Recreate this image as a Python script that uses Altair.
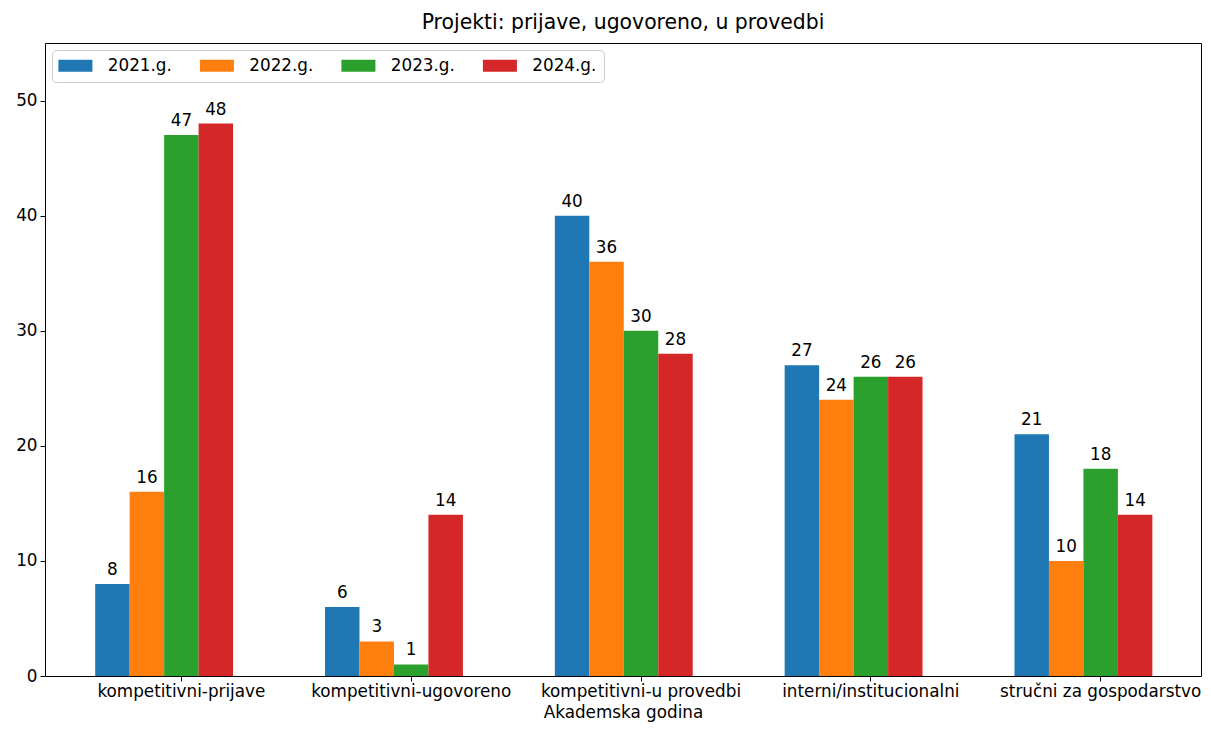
import altair as alt
import pandas as pd

categories = ["kompetitivni-prijave", "kompetitivni-ugovoreno", "kompetitivni-u provedbi",
              "interni/institucionalni", "stručni za gospodarstvo"]
years = ["2021.g.", "2022.g.", "2023.g.", "2024.g."]
v2021 = [8, 6, 40, 27, 21]
v2022 = [16, 3, 36, 24, 10]
v2023 = [47, 1, 30, 26, 18]
v2024 = [48, 14, 28, 26, 14]
colors = ["#1f77b4", "#ff7f0e", "#2ca02c", "#d62728"]
y_ticks = [0, 10, 20, 30, 40, 50]

rows = []
for yr, vals in zip(years, [v2021, v2022, v2023, v2024]):
    for c, v in zip(categories, vals):
        rows.append({"cat": c, "year": yr, "value": v})
df = pd.DataFrame(rows)

FONT = "DejaVu Sans"
FS = 16.8

x = alt.X("cat:N", sort=categories, title="Akademska godina",
          scale=alt.Scale(paddingInner=0.25, paddingOuter=0.14, align=0.78),
          axis=alt.Axis(labelAngle=0, domain=False, ticks=True, tickSize=5,
                        tickColor="#000", labelPadding=2, titlePadding=5,
                        labelFontSize=FS, titleFontSize=FS, labelColor="#000",
                        labelLimit=0, titleColor="#000", titleFontWeight="normal"))
xo = alt.XOffset("year:N", scale=alt.Scale(domain=years + ["_pad"], paddingInner=0, paddingOuter=0))
y = alt.Y("value:Q", title=None,
          scale=alt.Scale(domain=[0, 55], nice=False),
          axis=alt.Axis(values=y_ticks, grid=False, domain=False, tickSize=5,
                        tickColor="#000", labelPadding=3, labelFontSize=FS,
                        labelColor="#000"))

bars = alt.Chart(df).mark_bar(strokeWidth=0).encode(
    x=x, xOffset=xo, y=y,
    color=alt.Color("year:N", scale=alt.Scale(domain=years, range=colors),
                    legend=alt.Legend(title=None)),
)
labels = alt.Chart(df).mark_text(baseline="bottom", dy=-5, fontSize=FS, color="#000", font=FONT).encode(
    x=x, xOffset=xo, y=y, text="value:Q"
)

chart = (bars + labels).properties(
    width=1156, height=633,
    title=alt.TitleParams("Projekti: prijave, ugovoreno, u provedbi", fontSize=20.4,
                          fontWeight="normal", color="#000", font=FONT, offset=10),
    autosize=alt.AutoSizeParams(type="none"),
    padding={"left": 37, "top": 35, "right": 2, "bottom": 47},
).configure(font=FONT).configure_view(
    stroke="#000", strokeWidth=1
).configure_legend(
    orient="top-left", offset=7, direction="horizontal", columns=4,
    fillColor="white", strokeColor="#cccccc", cornerRadius=4, padding=7,
    labelFontSize=FS, labelColor="#000", labelFont=FONT,
    symbolType="M-1.5,-1L4.17,-1L4.17,1L-1.5,1Z", symbolSize=144,
    symbolStrokeWidth=0, labelOffset=32, columnPadding=27.5,
)

chart.save("out.html", embed_options={"renderer": "svg", "actions": False})
